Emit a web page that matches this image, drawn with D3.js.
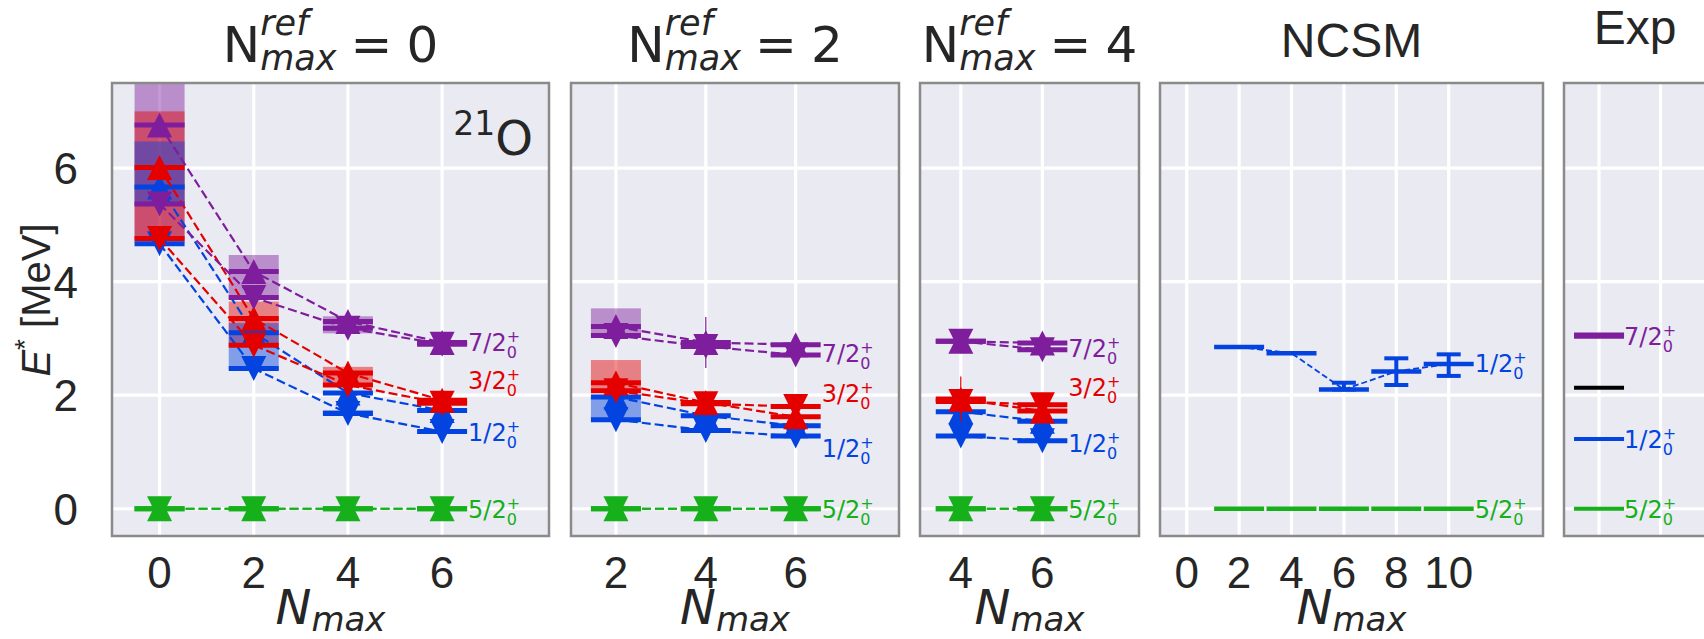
<!DOCTYPE html>
<html>
<head>
<meta charset="utf-8">
<script src="https://d3js.org/d3.v7.min.js"></script>
<style>
  body { margin: 0; background: #fff; }
  svg { display: block; }
  text { white-space: pre; }
</style>
</head>
<body>
<svg id="chart" width="1704" height="639"></svg>
<script>
// ---------------- data ----------------
const energyTicks = [0, 2, 4, 6];
const spinOrder = ["7/2", "3/2", "1/2", "5/2"];

// N_max^ref = 0
const ref0Nmax = [0, 2, 4, 6];
const ref0Up72 = [6.76, 4.18, 3.30, 2.93];
const ref0Dn72 = [5.37, 3.72, 3.18, 2.90];
const ref0Up32 = [6.01, 3.35, 2.39, 1.91];
const ref0Dn32 = [4.76, 2.88, 2.18, 1.86];
const ref0Up12 = [5.67, 3.10, 2.04, 1.73];
const ref0Dn12 = [4.67, 2.47, 1.68, 1.36];
const ref0Up52 = [0, 0, 0, 0];
const ref0Dn52 = [0, 0, 0, 0];
const ref0Band72 = [[4.68, 7.9], [3.69, 4.47], [3.09, 3.39], null];
const ref0Band32 = [[4.74, 7.0], [2.86, 3.65], [2.15, 2.50], null];
const ref0Band12 = [[5.34, 6.47], [2.45, 3.27], [1.66, 1.74], null];
const ref0LabelE = [2.93, 2.27, 1.36, 0];

// N_max^ref = 2
const ref2Nmax = [2, 4, 6];
const ref2Up72 = [3.21, 2.93, 2.89];
const ref2Dn72 = [3.05, 2.86, 2.71];
const ref2Up32 = [2.22, 1.87, 1.62];
const ref2Dn32 = [2.08, 1.85, 1.80];
const ref2Up12 = [1.97, 1.64, 1.46];
const ref2Dn12 = [1.57, 1.38, 1.28];
const ref2Up52 = [0, 0, 0];
const ref2Dn52 = [0, 0, 0];
const ref2Band72 = [[3.05, 3.53], null, null];
const ref2Band32 = [[2.08, 2.62], null, null];
const ref2Band12 = [[1.57, 1.97], null, null];
const ref2Err72 = [0, 0.45, 0];
const ref2LabelE = [2.74, 2.04, 1.07, 0];

// N_max^ref = 4
const ref4Nmax = [4, 6];
const ref4Up72 = [2.95, 2.92];
const ref4Dn72 = [2.95, 2.80];
const ref4Up32 = [1.93, 1.72];
const ref4Dn32 = [1.89, 1.83];
const ref4Up12 = [1.71, 1.54];
const ref4Dn12 = [1.28, 1.20];
const ref4Up52 = [0, 0];
const ref4Dn52 = [0, 0];
const ref4Band32 = [[1.88, 1.98], null];
const ref4Err32 = [0.40, 0];
const ref4LabelE = [2.83, 2.15, 1.16, 0];

// NCSM
const ncsmTicks = [0, 2, 4, 6, 8, 10];
const ncsmNmax = [2, 4, 6, 8, 10];
const ncsm12 = [2.85, 2.74, 2.10, 2.42, 2.55];
const ncsm12Lo = [null, null, 2.10, 2.18, 2.34];
const ncsm12Hi = [null, null, 2.22, 2.65, 2.72];
const ncsm52 = [0, 0, 0, 0, 0];
const ncsmLabelSpin = ["1/2", "5/2"];
const ncsmLabelE = [2.57, 0];

// Experiment
const expGrid = [0, 1];
const expE = [3.03, 3.07, 2.13, 1.23, 0];
const expSpin = ["7/2", "7/2", "", "1/2", "5/2"];
const expLabelSpin = ["7/2", "1/2", "5/2"];
const expLabelE = [3.05, 1.23, 0];

// ---------------- style ----------------
const colors = {"7/2": "#7e1e9c", "3/2": "#e50000", "1/2": "#0343df", "5/2": "#15b01a", "": "#000000"};
const textCol = "#262626";
const tickFont = "Liberation Sans";
const mathFont = "DejaVu Sans";

const svg = d3.select("#chart");
const yTop = 83, yBot = 536;
const y = d3.scaleLinear().domain([-0.48, 7.5]).range([yBot, yTop]);

const panels = [
  {x0: 112, x1: 549, dom: [-1.01, 8.27], ticks: ref0Nmax, ref: "0", nmax: ref0Nmax,
   up: [ref0Up72, ref0Up32, ref0Up12, ref0Up52], dn: [ref0Dn72, ref0Dn32, ref0Dn12, ref0Dn52],
   band: [ref0Band72, ref0Band32, ref0Band12, null], err: [null, null, null, null], lab: ref0LabelE},
  {x0: 571, x1: 899, dom: [1, 8.3], ticks: ref2Nmax, ref: "2", nmax: ref2Nmax,
   up: [ref2Up72, ref2Up32, ref2Up12, ref2Up52], dn: [ref2Dn72, ref2Dn32, ref2Dn12, ref2Dn52],
   band: [ref2Band72, ref2Band32, ref2Band12, null], err: [ref2Err72, null, null, null], lab: ref2LabelE},
  {x0: 920, x1: 1139, dom: [3, 8.37], ticks: ref4Nmax, ref: "4", nmax: ref4Nmax,
   up: [ref4Up72, ref4Up32, ref4Up12, ref4Up52], dn: [ref4Dn72, ref4Dn32, ref4Dn12, ref4Dn52],
   band: [null, ref4Band32, null, null], err: [null, ref4Err32, null, null], lab: ref4LabelE}
];
const ncsmPanel = {x0: 1160, x1: 1543, dom: [-1.02, 13.6], ticks: ncsmTicks};
const expPanel = {x0: 1564, x1: 1706, dom: [-0.57, 1.74], ticks: expGrid};

// draw a row of text pieces (sub/superscripts), anchored at cx
function mathRow(g, cx, baseY, parts, fill, anchor) {
  const nodes = [];
  let cur = 0, start = 0;
  parts.forEach(p => {
    const el = g.append("text")
      .attr("font-family", p.family || mathFont)
      .attr("font-size", p.size)
      .attr("font-style", p.italic ? "italic" : null)
      .attr("fill", fill)
      .attr("y", baseY + (p.dy || 0))
      .text(p.t);
    const w = el.node().getComputedTextLength();
    let px;
    if (p.stack) { px = start; cur = Math.max(cur, start + w); }
    else { cur += (p.gap || 0); px = cur; start = cur; cur += w; }
    nodes.push([el, px]);
  });
  let off = cx - cur / 2;
  if (anchor === "start") off = cx;
  if (anchor === "end") off = cx - cur;
  nodes.forEach(([el, px]) => el.attr("x", off + px));
}

function spinLabel(g, x, e, spin) {
  mathRow(g, x, y(e) + 9, [
    {t: spin, size: 24},
    {t: "+", size: 16, dy: -9},
    {t: "0", size: 16, dy: 7, stack: true}
  ], colors[spin], "start");
}

const upPath = "M0,-12.5L-12.5,12.5L12.5,12.5Z";
const dnPath = "M0,12.5L-12.5,-12.5L12.5,-12.5Z";

function drawFrame(p, idx) {
  const g = svg.append("g");
  const x = d3.scaleLinear().domain(p.dom).range([p.x0, p.x1]);
  g.append("rect").attr("x", p.x0).attr("y", yTop).attr("width", p.x1 - p.x0).attr("height", yBot - yTop)
    .attr("fill", "#eaeaf2");
  g.selectAll(".vg").data(p.ticks).join("line")
    .attr("x1", d => x(d)).attr("x2", d => x(d)).attr("y1", yTop).attr("y2", yBot)
    .attr("stroke", "#fff").attr("stroke-width", 3.2);
  g.selectAll(".hg").data(energyTicks).join("line")
    .attr("x1", p.x0).attr("x2", p.x1).attr("y1", d => y(d)).attr("y2", d => y(d))
    .attr("stroke", "#fff").attr("stroke-width", 3.2);
  svg.append("clipPath").attr("id", "clip" + idx).append("rect")
    .attr("x", p.x0).attr("y", yTop).attr("width", p.x1 - p.x0).attr("height", yBot - yTop);
  const inner = g.append("g").attr("clip-path", `url(#clip${idx})`);
  return {g, inner, x};
}

function drawBorder(p) {
  svg.append("rect").attr("x", p.x0).attr("y", yTop).attr("width", p.x1 - p.x0).attr("height", yBot - yTop)
    .attr("fill", "none").attr("stroke", "#8a8a8a").attr("stroke-width", 2.5);
}

function xTickLabels(x, ticks) {
  svg.append("g").selectAll("text").data(ticks).join("text")
    .attr("x", d => x(d)).attr("y", 588).attr("text-anchor", "middle")
    .attr("font-family", tickFont).attr("font-size", 44).attr("fill", textCol)
    .text(d => d);
}

function xLabel(p) {
  mathRow(svg, (p.x0 + p.x1) / 2, 624, [
    {t: "N", size: 48, italic: true},
    {t: "max", size: 34, italic: true, dy: 7}
  ], textCol);
}

// ---- IMSRG panels ----
panels.forEach((p, idx) => {
  const {inner, x} = drawFrame(p, idx);
  // uncertainty bands
  p.band.forEach((bands, s) => {
    if (!bands) return;
    bands.forEach((b, i) => {
      if (!b) return;
      inner.append("rect").attr("x", x(p.nmax[i]) - 25).attr("width", 50)
        .attr("y", y(b[1])).attr("height", y(b[0]) - y(b[1]))
        .attr("fill", colors[spinOrder[s]]).attr("opacity", 0.45);
    });
  });
  // green first, then blue, red, purple on top
  [3, 2, 1, 0].forEach(s => {
    const col = colors[spinOrder[s]];
    [p.up[s], p.dn[s]].forEach((vals, k) => {
      const pts = vals.map((v, i) => [x(p.nmax[i]), y(v)]);
      inner.append("path").attr("d", d3.line()(pts)).attr("fill", "none")
        .attr("stroke", col).attr("stroke-width", 2.2).attr("stroke-dasharray", "9,4");
      if (k === 0 && p.err[s]) {
        p.err[s].forEach((e, i) => {
          if (!e) return;
          inner.append("line").attr("x1", x(p.nmax[i])).attr("x2", x(p.nmax[i]))
            .attr("y1", y(vals[i] - e)).attr("y2", y(vals[i] + e))
            .attr("stroke", col).attr("stroke-width", 1.2);
        });
      }
      inner.selectAll(null).data(vals).join("line")
        .attr("x1", (d, i) => x(p.nmax[i]) - 25).attr("x2", (d, i) => x(p.nmax[i]) + 25)
        .attr("y1", d => y(d)).attr("y2", d => y(d))
        .attr("stroke", col).attr("stroke-width", 5);
      inner.selectAll(null).data(vals).join("path")
        .attr("d", k === 0 ? upPath : dnPath)
        .attr("transform", (d, i) => `translate(${x(p.nmax[i])},${y(d)})`)
        .attr("fill", col);
    });
  });
  const xl = x(p.nmax[p.nmax.length - 1]) + 26;
  p.lab.forEach((e, s) => spinLabel(svg, xl, e, spinOrder[s]));
  drawBorder(p);
  xTickLabels(x, p.ticks);
  xLabel(p);
  mathRow(svg, (p.x0 + p.x1) / 2, 62, [
    {t: "N", size: 50},
    {t: "ref", size: 35, italic: true, dy: -27},
    {t: "max", size: 35, italic: true, dy: 8, stack: true},
    {t: "=", size: 50, gap: 14},
    {t: p.ref, size: 50, gap: 14}
  ], textCol);
});

// ---- NCSM panel ----
{
  const p = ncsmPanel;
  const {inner, x} = drawFrame(p, 3);
  const blue = colors["1/2"], green = colors["5/2"];
  inner.append("path").attr("d", d3.line()(ncsm12.map((v, i) => [x(ncsmNmax[i]), y(v)])))
    .attr("fill", "none").attr("stroke", blue).attr("stroke-width", 1.8).attr("stroke-dasharray", "6,3");
  ncsm12.forEach((v, i) => {
    const cx = x(ncsmNmax[i]);
    if (ncsm12Lo[i] !== null) {
      inner.append("line").attr("x1", cx).attr("x2", cx).attr("y1", y(ncsm12Lo[i])).attr("y2", y(ncsm12Hi[i]))
        .attr("stroke", blue).attr("stroke-width", 4);
      [ncsm12Lo[i], ncsm12Hi[i]].forEach(c => inner.append("line")
        .attr("x1", cx - 12).attr("x2", cx + 12).attr("y1", y(c)).attr("y2", y(c))
        .attr("stroke", blue).attr("stroke-width", 4));
    }
  });
  [[ncsm12, blue], [ncsm52, green]].forEach(([vals, col]) => {
    inner.selectAll(null).data(vals).join("line")
      .attr("x1", (d, i) => x(ncsmNmax[i]) - 25).attr("x2", (d, i) => x(ncsmNmax[i]) + 25)
      .attr("y1", d => y(d)).attr("y2", d => y(d))
      .attr("stroke", col).attr("stroke-width", 4.5);
  });
  const xl = x(ncsmNmax[ncsmNmax.length - 1]) + 26;
  ncsmLabelE.forEach((e, i) => spinLabel(svg, xl, e, ncsmLabelSpin[i]));
  drawBorder(p);
  xTickLabels(x, p.ticks);
  xLabel(p);
  svg.append("text").attr("x", (p.x0 + p.x1) / 2).attr("y", 57).attr("text-anchor", "middle")
    .attr("font-family", tickFont).attr("font-size", 48).attr("fill", textCol).text("NCSM");
}

// ---- Experiment panel ----
{
  const p = expPanel;
  const {inner, x} = drawFrame(p, 4);
  inner.selectAll(null).data(expE).join("line")
    .attr("x1", x(0) - 25).attr("x2", x(0) + 25)
    .attr("y1", d => y(d)).attr("y2", d => y(d))
    .attr("stroke", (d, i) => colors[expSpin[i]]).attr("stroke-width", 4);
  expLabelE.forEach((e, i) => spinLabel(svg, x(0) + 25, e, expLabelSpin[i]));
  drawBorder(p);
  svg.append("text").attr("x", (p.x0 + p.x1) / 2).attr("y", 44).attr("text-anchor", "middle")
    .attr("font-family", tickFont).attr("font-size", 48).attr("fill", textCol).text("Exp");
}

// ---- y axis ----
svg.append("g").selectAll("text").data(energyTicks).join("text")
  .attr("x", 78).attr("y", d => y(d) + 16).attr("text-anchor", "end")
  .attr("font-family", tickFont).attr("font-size", 44).attr("fill", textCol).text(d => d);

const ylab = svg.append("text")
  .attr("transform", "translate(50,300) rotate(-90)")
  .attr("text-anchor", "middle")
  .attr("font-family", tickFont).attr("font-size", 40).attr("fill", textCol);
ylab.append("tspan").attr("font-style", "italic").text("E");
ylab.append("tspan").attr("font-size", 28).attr("dy", -16).text("*");
ylab.append("tspan").attr("dy", 16).text(" [MeV]");

// nucleus tag
mathRow(svg, 533, 155, [
  {t: "21", size: 33, dy: -20},
  {t: "O", size: 48}
], textCol, "end");
</script>
</body>
</html>
